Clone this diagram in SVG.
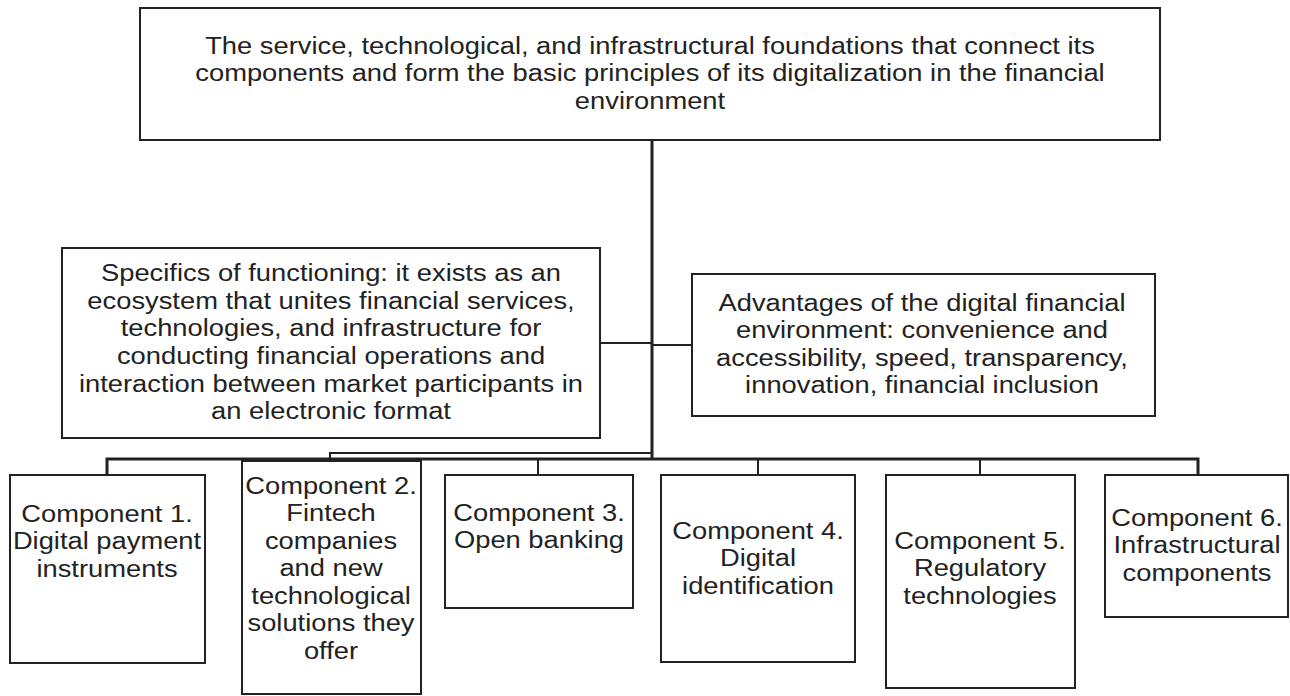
<svg xmlns="http://www.w3.org/2000/svg" width="1290" height="696" viewBox="0 0 1290 696">
  <style>
    .box { fill: #ffffff; stroke: #222222; stroke-width: 2; }
    .wire { fill: none; stroke: #222222; stroke-width: 2; }
    .trunk { fill: none; stroke: #222222; stroke-width: 3; }
    text { font-family: "Liberation Sans", Arial, sans-serif; font-size: 24.4px; fill: #222222; text-anchor: middle; }
  </style>
  <rect width="1290" height="696" fill="#ffffff"/>

  <!-- connectors -->
  <g id="connectors">
    <line class="trunk" x1="652" y1="140" x2="652" y2="460"/>
    <polyline class="wire" points="600,343 652,343"/>
    <polyline class="wire" points="652,345 692,345"/>
    <polyline class="wire" points="652,453 330,453 330,461"/>
    <polyline class="trunk" points="107,475 107,459 1198,459 1198,475"/>
    <line class="wire" x1="538" y1="459" x2="538" y2="475"/>
    <line class="wire" x1="758" y1="459" x2="758" y2="475"/>
    <line class="wire" x1="980" y1="459" x2="980" y2="475"/>
  </g>

  <!-- root: labels are drawn at x=0 inside a widened frame centred on the box -->
  <g id="root">
    <rect class="box" x="140" y="8" width="1020" height="132"/>
    <g transform="translate(650 0) scale(1.12 1)">
      <text x="0" y="54">The service, technological, and infrastructural foundations that connect its</text>
      <text x="0" y="81.5">components and form the basic principles of its digitalization in the financial</text>
      <text x="0" y="109">environment</text>
    </g>
  </g>

  <!-- specifics -->
  <g id="specifics">
    <rect class="box" x="62" y="248" width="538" height="190"/>
    <g transform="translate(331 0) scale(1.12 1)">
      <text x="0" y="281">Specifics of functioning: it exists as an</text>
      <text x="0" y="308.7">ecosystem that unites financial services,</text>
      <text x="0" y="336.4">technologies, and infrastructure for</text>
      <text x="0" y="364.1">conducting financial operations and</text>
      <text x="0" y="391.8">interaction between market participants in</text>
      <text x="0" y="419.5">an electronic format</text>
    </g>
  </g>

  <!-- advantages -->
  <g id="advantages">
    <rect class="box" x="692" y="274" width="463" height="142"/>
    <g transform="translate(922 0) scale(1.12 1)">
      <text x="0" y="311">Advantages of the digital financial</text>
      <text x="0" y="338.5">environment: convenience and</text>
      <text x="0" y="366">accessibility, speed, transparency,</text>
      <text x="0" y="393.5">innovation, financial inclusion</text>
    </g>
  </g>

  <!-- components -->
  <g id="component-1">
    <rect class="box" x="10" y="475" width="195" height="188"/>
    <g transform="translate(107 0) scale(1.12 1)">
      <text x="0" y="522">Component 1.</text>
      <text x="0" y="549.5">Digital payment</text>
      <text x="0" y="577">instruments</text>
    </g>
  </g>
  <g id="component-2">
    <rect class="box" x="242" y="461" width="179" height="233"/>
    <g transform="translate(331 0) scale(1.12 1)">
      <text x="0" y="494">Component 2.</text>
      <text x="0" y="521.5">Fintech</text>
      <text x="0" y="549">companies</text>
      <text x="0" y="576.5">and new</text>
      <text x="0" y="604">technological</text>
      <text x="0" y="631.5">solutions they</text>
      <text x="0" y="659">offer</text>
    </g>
  </g>
  <g id="component-3">
    <rect class="box" x="445" y="475" width="188" height="133"/>
    <g transform="translate(539 0) scale(1.12 1)">
      <text x="0" y="521">Component 3.</text>
      <text x="0" y="548.5">Open banking</text>
    </g>
  </g>
  <g id="component-4">
    <rect class="box" x="661" y="475" width="194" height="187"/>
    <g transform="translate(758 0) scale(1.12 1)">
      <text x="0" y="539">Component 4.</text>
      <text x="0" y="566.5">Digital</text>
      <text x="0" y="594">identification</text>
    </g>
  </g>
  <g id="component-5">
    <rect class="box" x="886" y="475" width="189" height="213"/>
    <g transform="translate(980 0) scale(1.12 1)">
      <text x="0" y="549">Component 5.</text>
      <text x="0" y="576.5">Regulatory</text>
      <text x="0" y="604">technologies</text>
    </g>
  </g>
  <g id="component-6">
    <rect class="box" x="1105" y="475" width="183" height="142"/>
    <g transform="translate(1197 0) scale(1.12 1)">
      <text x="0" y="526">Component 6.</text>
      <text x="0" y="553.5">Infrastructural</text>
      <text x="0" y="581">components</text>
    </g>
  </g>
</svg>
